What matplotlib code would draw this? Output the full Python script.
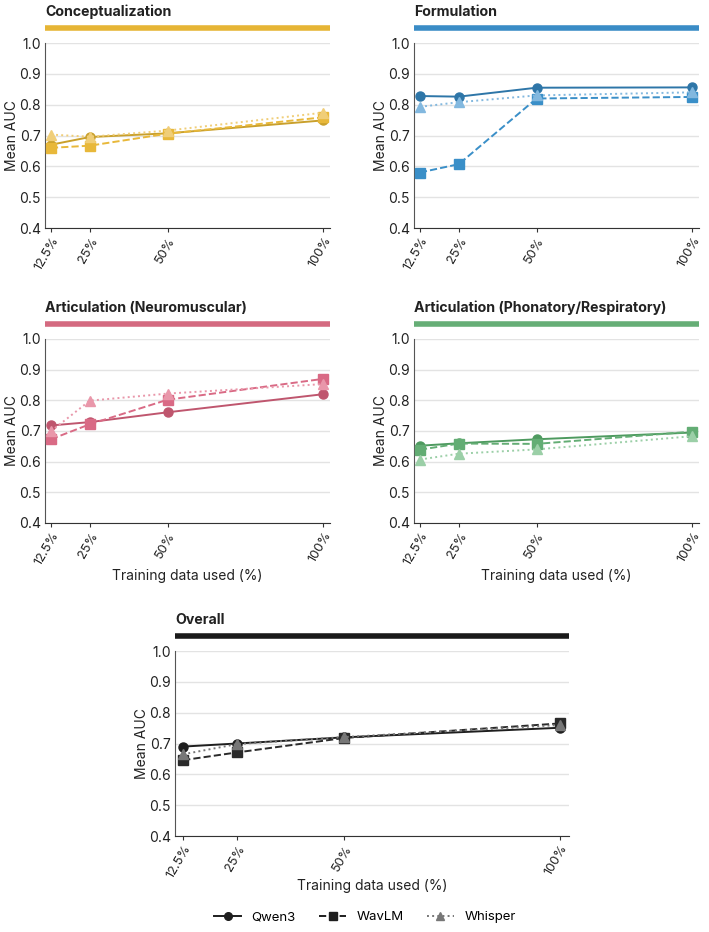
import numpy as np
import matplotlib
matplotlib.use('Agg')
import matplotlib.pyplot as plt
from matplotlib.lines import Line2D

plt.rcParams['font.family'] = ['Inter', 'DejaVu Sans']

# data
pcts = [12.5, 25, 50, 100]
pct_labels = ['12.5%', '25%', '50%', '100%']
models = ['Qwen3', 'WavLM', 'Whisper']

concept_qwen = [0.670, 0.695, 0.707, 0.749]
concept_wavlm = [0.660, 0.667, 0.706, 0.759]
concept_whisper = [0.703, 0.696, 0.716, 0.774]

form_qwen = [0.828, 0.826, 0.855, 0.856]
form_wavlm = [0.580, 0.607, 0.820, 0.825]
form_whisper = [0.793, 0.808, 0.830, 0.840]

neuro_qwen = [0.718, 0.729, 0.761, 0.820]
neuro_wavlm = [0.673, 0.722, 0.802, 0.870]
neuro_whisper = [0.699, 0.799, 0.822, 0.853]

phon_qwen = [0.652, 0.660, 0.673, 0.695]
phon_wavlm = [0.639, 0.659, 0.658, 0.698]
phon_whisper = [0.607, 0.626, 0.640, 0.683]

overall_qwen = [0.690, 0.700, 0.720, 0.751]
overall_wavlm = [0.646, 0.671, 0.718, 0.765]
overall_whisper = [0.665, 0.698, 0.721, 0.760]

panels = [
    ('Conceptualization', '#E6B535', ['#C9A02C', '#E8B83A', '#F0CE78'],
     [concept_qwen, concept_wavlm, concept_whisper]),
    ('Formulation', '#3A8CC6', ['#2E76A8', '#3A8FC8', '#82B8DF'],
     [form_qwen, form_wavlm, form_whisper]),
    ('Articulation (Neuromuscular)', '#D46A80', ['#BF566E', '#D96A85', '#E997AA'],
     [neuro_qwen, neuro_wavlm, neuro_whisper]),
    ('Articulation (Phonatory/Respiratory)', '#66AE76', ['#4E9A5F', '#63AD74', '#9BCFA7'],
     [phon_qwen, phon_wavlm, phon_whisper]),
    ('Overall', '#1A1A1A', ['#1E1E1E', '#2A2A2A', '#777777'],
     [overall_qwen, overall_wavlm, overall_whisper]),
]

styles = [('-', 'o'), ('--', 's'), (':', '^')]

fig = plt.figure(figsize=(7.09, 9.32), dpi=100)
W, H = 709, 932

def box(l, t, r, b):
    return [l / W, 1 - b / H, (r - l) / W, (b - t) / H]

rects = [box(45, 43, 330, 228), box(414, 43, 699, 228),
         box(45, 339, 330, 523), box(414, 339, 699, 523),
         box(175, 651, 569, 836)]

for i, (title, barcol, cols, series) in enumerate(panels):
    ax = fig.add_axes(rects[i])
    wpx = rects[i][2] * W
    hpx = rects[i][3] * H
    for j, vals in enumerate(series):
        ls, mk = styles[j]
        ax.plot(pcts, vals, linestyle=ls, marker=mk, color=cols[j],
                markersize=6.5, linewidth=1.4, zorder=3)
    ax.set_ylim(0.4, 1.0)
    ax.set_xlim(10.6, 102.2)
    ax.set_yticks(np.arange(0.4, 1.01, 0.1))
    ax.set_yticklabels(['%.1f' % v for v in np.arange(0.4, 1.01, 0.1)], fontsize=10, color='#222222')
    ax.set_xticks(pcts)
    ax.set_xticklabels(pct_labels, rotation=60, ha='right', rotation_mode='anchor',
                       fontsize=9.2, color='#222222')
    ax.grid(axis='y', color='#E3E3E3', linewidth=1.0)
    ax.set_axisbelow(True)
    for s in ['top', 'right']:
        ax.spines[s].set_visible(False)
    ax.spines['left'].set_color('#555555')
    ax.spines['bottom'].set_color('#333333')
    ax.tick_params(axis='y', length=0, pad=3)
    ax.tick_params(axis='x', length=3, color='#333333', pad=2)
    ax.set_ylabel('Mean AUC', fontsize=10, color='#222222')
    ax.yaxis.set_label_coords(-26 / wpx, 0.5)
    if i >= 2:
        ax.set_xlabel('Training data used (%)', fontsize=10, color='#222222')
        off = 43 if i == 4 else 46
        ax.xaxis.set_label_coords(0.5, -off / hpx)
    ax.text(0, 1.168, title, transform=ax.transAxes, fontsize=10.2, fontweight='bold',
            color='#222222', va='center', ha='left')
    ax.plot([0, 1], [1.083, 1.083], transform=ax.transAxes, color=barcol,
            linewidth=4, solid_capstyle='butt', clip_on=False)

handles = [Line2D([0], [0], linestyle=ls, marker=mk, color=c, markersize=5.5, linewidth=1.4)
           for (ls, mk), c in zip(styles, ['#1E1E1E', '#1E1E1E', '#777777'])]
fig.legend(handles, models, loc='center', bbox_to_anchor=(365 / W, 1 - 917 / H), ncol=3,
           frameon=False, fontsize=9.5, handlelength=2.0, columnspacing=1.8)

fig.savefig('out.png', dpi=100)
